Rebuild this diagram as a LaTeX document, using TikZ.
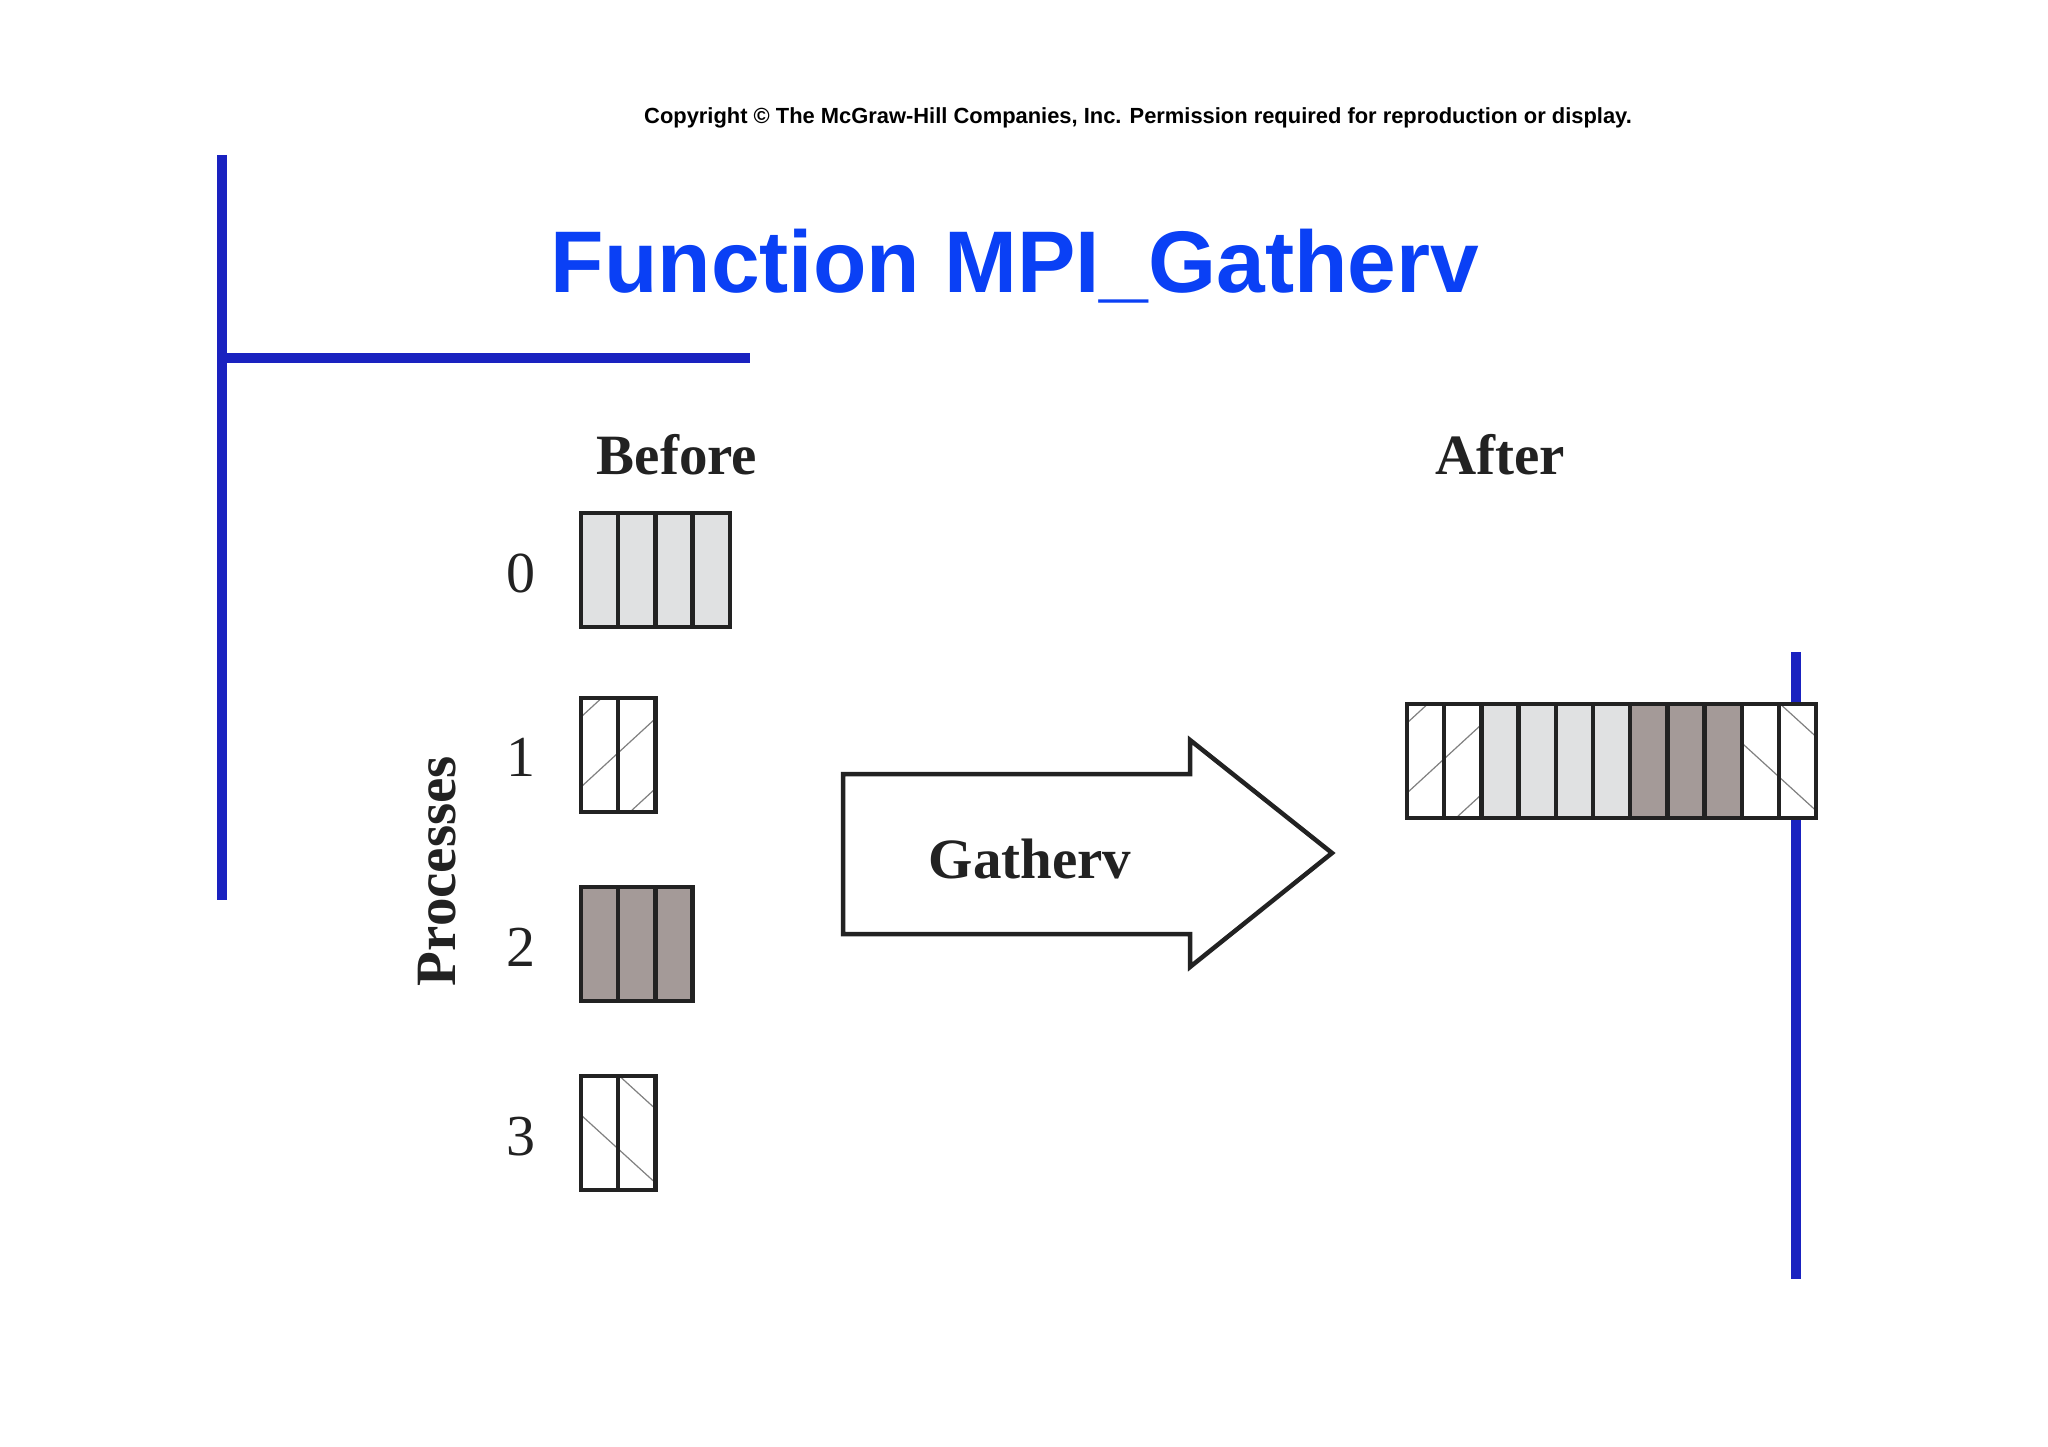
\documentclass[tikz,border=0pt]{standalone}
\usepackage{fontspec}
\setmainfont{Liberation Serif}
\setsansfont{Liberation Sans}
\definecolor{titleblue}{HTML}{0A40F5}
\definecolor{barblue}{HTML}{1A22C0}
\definecolor{lightc}{HTML}{E0E1E2}
\definecolor{darkc}{HTML}{A49A98}
\definecolor{ink}{HTML}{222222}
\begin{document}
\begin{tikzpicture}[x=1pt,y=-1pt,
  bar/.style={draw=barblue,line width=10pt},
  cellbox/.style={draw=ink,line width=4.5pt},
  hatch/.style={draw=gray,line width=1.2pt},
  lbl/.style={font=\bfseries\fontsize{57}{62}\selectfont,text=ink},
  num/.style={font=\fontsize{58}{62}\selectfont,text=ink}]
\useasboundingbox (0,0) rectangle (2048,1447);
\fill[white] (0,0) rectangle (2048,1447);
\def\cw{37.2}
% blue bars
\draw[bar] (222,155) -- (222,900);
\draw[bar] (222,358) -- (750,358);
\draw[bar] (1796,652) -- (1796,1279);
% texts
\node (copy) at (1138,118) {\sffamily\bfseries\fontsize{21.9}{24}\selectfont Copyright \textcopyright{} The McGraw-Hill Companies, Inc. Permission required for reproduction or display.};
\node[text=titleblue] (title) at (1015,266) {\sffamily\bfseries\fontsize{87.5}{96}\selectfont Function MPI\_Gatherv};
\node[lbl] (before) at (677,455) {Before};
\node[lbl] (after) at (1500,455) {After};
\node[lbl,rotate=90] (proc) at (437,871) {Processes};
\node[num] (n0) at (521,573) {0};
\node[num] (n1) at (521,757) {1};
\node[num] (n2) at (521,947) {2};
\node[num] (n3) at (521,1137) {3};
% hatch macros (box of 2 cells, h=114; origin top-left)
\def\hatchA#1#2{\begin{scope}\clip (#1,#2) rectangle ++({2*\cw},114);
  \foreach \c in {-45,25,95} \draw[hatch] (#1,{#2+114-\c}) -- ++({2*\cw},-68.4);\end{scope}}
\def\hatchB#1#2{\begin{scope}\clip (#1,#2) rectangle ++({2*\cw},114);
  \foreach \c in {1,75,149} \draw[hatch] (#1,{#2+114-\c}) -- ++({2*\cw},67.8);\end{scope}}
% process 0
\fill[lightc] (581,513) rectangle ++({4*\cw},114);
\draw[cellbox] (581,513) rectangle ++({4*\cw},114);
\foreach \i in {1,2,3} \draw[cellbox] ({581+\cw*\i},513) -- ++(0,114);
% process 1
\hatchA{581}{698}
\draw[cellbox] (581,698) rectangle ++({2*\cw},114);
\draw[cellbox] ({581+\cw},698) -- ++(0,114);
% process 2
\fill[darkc] (581,887) rectangle ++({3*\cw},114);
\draw[cellbox] (581,887) rectangle ++({3*\cw},114);
\foreach \i in {1,2} \draw[cellbox] ({581+\cw*\i},887) -- ++(0,114);
% process 3
\hatchB{581}{1076}
\draw[cellbox] (581,1076) rectangle ++({2*\cw},114);
\draw[cellbox] ({581+\cw},1076) -- ++(0,114);
% arrow
\draw[cellbox,fill=white,line join=miter] (843,774) -- (1190,774) -- (1190,740) -- (1332,853) -- (1190,967) -- (1190,934) -- (843,934) -- cycle;
\node[lbl] (gv) at (1030,859) {Gatherv};
% after
\fill[white] (1407,704) rectangle ++({11*\cw},114);
\hatchA{1407}{704}
\fill[lightc] ({1407+2*\cw},704) rectangle ++({4*\cw},114);
\fill[darkc] ({1407+6*\cw},704) rectangle ++({3*\cw},114);
\hatchB{1407+9*\cw}{704}
\draw[cellbox] (1407,704) rectangle ++({11*\cw},114);
\foreach \i in {1,...,10} \draw[cellbox] ({1407+\cw*\i},704) -- ++(0,114);
\end{tikzpicture}
\end{document}
